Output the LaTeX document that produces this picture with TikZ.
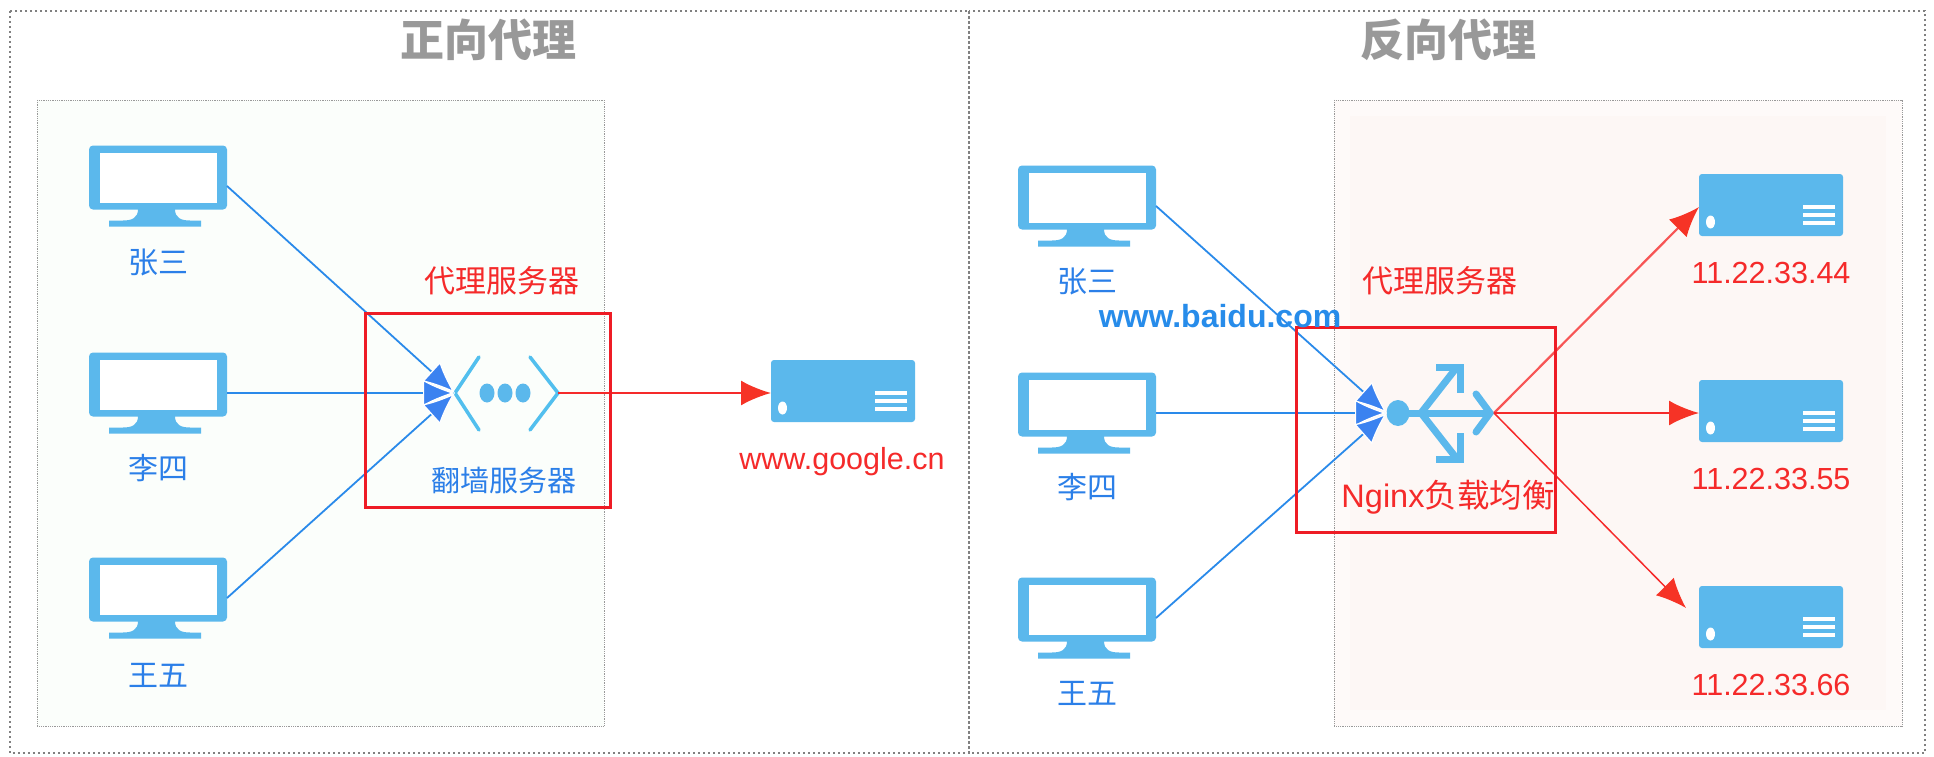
\documentclass[tikz,border=0pt]{standalone}
\usepackage{fontspec}
\setmainfont{Liberation Sans}
\newfontfamily\cjk{Noto Sans CJK SC}
\usetikzlibrary{arrows.meta}
\definecolor{iconblue}{HTML}{5BB8EC}
\definecolor{tipblue}{HTML}{3B82F0}
\definecolor{lineblue}{HTML}{2A8AEA}
\definecolor{textblue}{HTML}{2B7FE8}
\definecolor{textred}{HTML}{F52A2A}
\definecolor{boxred}{HTML}{EE1C25}
\definecolor{palegreen}{HTML}{FBFEFB}
\definecolor{palered}{HTML}{FEFAF9}
\definecolor{palerose}{HTML}{FDF7F5}
\tikzset{
  monitor/.pic={
    \fill[iconblue,rounded corners=4pt] (-69,-40.5) rectangle (69,23.5);
    \fill[white] (-58.5,-33.5) rectangle (58.5,16.5);
    \fill[iconblue] (-20,23) .. controls (-20,32) and (-26,34.5) .. (-35,34.5)
      -- (-49,34.5) -- (-49,40.5) -- (43,40.5) -- (43,34.5) -- (32,34.5)
      .. controls (23,34.5) and (17,32) .. (17,23) -- cycle;
    \coordinate (-e) at (69,0);
  },
  server/.pic={
    \fill[iconblue,rounded corners=3pt] (-72,-31) rectangle (72,31);
    \fill[white] (-60.5,17) ellipse (4.5 and 6.5);
    \foreach \y in {2,10,18} {
      \fill[white] (32,\y-1.7) rectangle (63.5,\y+1.7);
    }
    \coordinate (-w) at (-72,2);
  },
  person/.style={text=textblue,font=\cjk\fontsize{30}{32}\selectfont},
  addr/.style={text=textred,font=\fontsize{30.5}{34}\selectfont},
  title/.style={text=black!40,font=\cjk\bfseries\fontsize{44}{48}\selectfont},
  panel/.style={densely dotted,line width=0.8pt,draw=black!40},
  frame/.style={dash pattern=on 2pt off 3pt,line width=1.5pt,draw=black!50},
  redbox/.style={draw=boxred,line width=3pt},
  inline/.style={lineblue,line width=1.8pt,-{Latex[length=32pt,width=27pt,color=white,fill=tipblue,line width=1.2pt]}},
  outline/.style={textred,line width=2.2pt,-{Latex[length=30pt,width=25pt,color=textred!90!orange]}},
}
\begin{document}
\begin{tikzpicture}[>=Latex,x=1pt,y=-1pt]
  \useasboundingbox (0,0) rectangle (1934,757);
  \fill[white] (0,0) rectangle (1934,757);
  % panels
  \fill[palegreen] (37,100) rectangle (604,726);
  \fill[palered] (1334,100) rectangle (1902,726);
  \fill[palerose] (1350,116) rectangle (1886,710);
  \draw[panel] (37,100) rectangle (604,726);
  \draw[panel] (1334,100) rectangle (1902,726);
  \draw[frame] (10,11) rectangle (969,753);
  \draw[frame] (969,11) rectangle (1925,753);
  \node[title] (tleft) at (488,40) {正向代理};
  \node[title] (tright) at (1448,40) {反向代理};
  % clients, left and right
  \foreach \n/\x/\y/\ly/\lab in {a/158/186/262/张三,b/158/393/468/李四,c/158/598/675/王五,
      d/1087/206/281/张三,e/1087/413/487/李四,f/1087/618/693/王五} {
    \pic (m\n) at (\x,\y) {monitor};
    \node[person] (l\n) at (\x,\ly) {\lab};
  }
  % servers
  \pic (sg) at (843,391) {server};
  \foreach \n/\y/\ly/\lab in {a/205/273/44,b/411/479/55,c/617/685/66} {
    \pic (s\n) at (1771,\y) {server};
    \node[addr] (ip\n) at (1771,\ly) {11.22.33.\lab};
  }
  \node[addr] (lgoogle) at (842,462) {www.google.cn};
  % forward proxy icon
  \coordinate (fw) at (455,393);
  \coordinate (fe) at (558,393);
  \draw[iconblue!90!cyan,line width=3.5pt,line cap=round]
    (479,357) -- (fw) -- (479,430) (530,357) -- (fe) -- (530,430);
  \foreach \x in {487,505,523} {
    \fill[iconblue] (\x,393) ellipse (7.5 and 9.5);
  }
  % balancer icon
  \coordinate (nw) at (1387,413);
  \coordinate (ne) at (1494,413);
  \coordinate (tipc) at (1686,608);
  \fill[iconblue] (1398,413) ellipse (11.5 and 13);
  \draw[iconblue,line width=7pt] (1398,413) -- (1488,413);
  \draw[iconblue,line width=7pt,line cap=round] (1476,394) -- (1490,413) -- (1476,432);
  \draw[iconblue,line width=7pt] (1421,413) -- (1457,367);
  \draw[iconblue,line width=7pt] (1436,367) -- (1460,367) -- (1460,393);
  \draw[iconblue,line width=7pt] (1421,413) -- (1457,459);
  \draw[iconblue,line width=7pt] (1436,459) -- (1460,459) -- (1460,433);
  % connectors
  \foreach \n in {a,b,c} {
    \draw[inline] (m\n-e) -- (fw);
  }
  \draw[outline] (fe) -- (sg-w);
  \foreach \n in {d,e,f} {
    \draw[inline] (m\n-e) -- (nw);
  }
  \draw[outline,textred!80!white] (ne) -- (sa-w);
  \draw[outline] (ne) -- (sb-w);
  \draw[outline,line width=1.5pt] (ne) -- (tipc);
  % red boxes
  \draw[redbox] (365,313) rectangle (610,507);
  \draw[redbox] (1296,327) rectangle (1555,532);
  \node[text=textred,font=\cjk\fontsize{31}{34}\selectfont] (pl) at (502,281) {代理服务器};
  \node[text=textred,font=\cjk\fontsize{31}{34}\selectfont] (pr) at (1440,281) {代理服务器};
  \node[text=textblue,font=\cjk\fontsize{29}{32}\selectfont] (fq) at (504,480) {翻墙服务器};
  \node[addr,font=\fontsize{32.5}{36}\selectfont] (nginx) at (1448,497) {Nginx{\cjk 负载均衡}};
  \node[text=textblue!90!cyan,font=\bfseries\fontsize{32}{34}\selectfont] (baidu) at (1220,316) {www.baidu.com};
\end{tikzpicture}
\end{document}
